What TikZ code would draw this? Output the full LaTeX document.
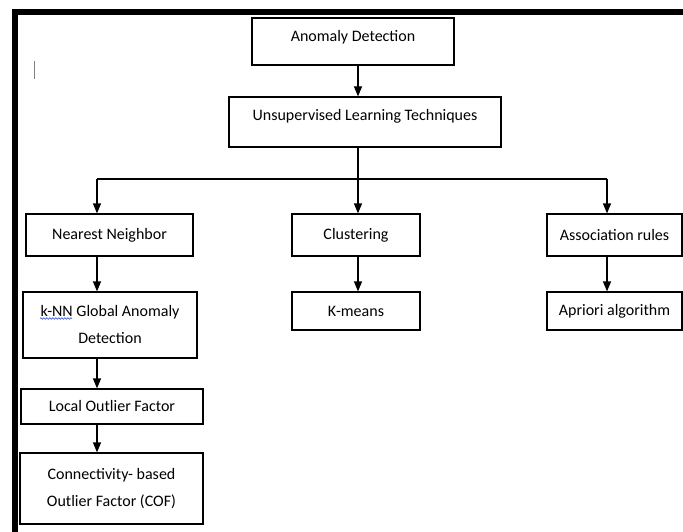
\documentclass[tikz,border=0pt]{standalone}
\usepackage{fontspec}
\setmainfont{Carlito}
\usetikzlibrary{arrows.meta,decorations.pathmorphing}
\definecolor{wavyblue}{RGB}{70,100,220}
\begin{document}
\begin{tikzpicture}[x=1pt,y=-1pt,
  box/.style={draw=black, line width=1.2pt, inner sep=0pt, font=\fontsize{16}{27}\selectfont},
  conn/.style={line width=1.2pt, -{Triangle[length=10pt,width=8pt]}},
  plain/.style={line width=1.2pt}]
\useasboundingbox (0,0) rectangle (683,532);
% page border and cursor
\fill (12,9) rectangle (683,15);
\fill (12,9) rectangle (18,532);
\draw[gray, line width=1.5pt] (34.5,61) -- (34.5,79);
% boxes
\node[box, minimum width=202pt, minimum height=47pt, text height=11pt, text depth=11pt] (ad) at (353,41.5) {Anomaly Detection};
\node[box, minimum width=272pt, minimum height=50pt, text height=10pt, text depth=13pt] (ul) at (365,122) {Unsupervised Learning Techniques};
\node[box, minimum width=167pt, minimum height=42pt] (nn) at (109.5,235) {Nearest Neighbor};
\node[box, minimum width=128pt, minimum height=42pt] (cl) at (356,235) {Clustering};
\node[box, minimum width=135pt, minimum height=42pt] (ar) at (614.5,235) {Association rules};
\node[box, align=center, minimum width=174pt, minimum height=66pt] (knn) at (110,325) {k-NN Global Anomaly\\Detection};
\node[box, minimum width=128pt, minimum height=38pt] (km) at (356,311) {K-means};
\node[box, minimum width=135pt, minimum height=38pt] (ap) at (614.5,311) {Apriori algorithm};
\node[box, minimum width=182pt, minimum height=35pt] (lof) at (112,406.5) {Local Outlier Factor};
\node[box, align=center, minimum width=183pt, minimum height=71pt] (cof) at (111.5,488.5) {Connectivity- based\\Outlier Factor (COF)};
% spell-check underline
\draw[wavyblue, line width=0.7pt, decorate, decoration={snake, amplitude=0.8pt, segment length=3pt}] (40,318.5) -- (72,318.5);
% connectors
\coordinate (hub) at (358,179);
\coordinate (hl) at (97,179);
\coordinate (hr) at (607,179);
\draw[conn] (hub |- ad.south) -- (hub |- ul.north);
\draw[plain] (hub |- ul.south) -- (hub);
\draw[plain] (hl) -- (hr);
\draw[conn] (hl) -- (hl |- nn.north);
\draw[conn] (hub) -- (hub |- cl.north);
\draw[conn] (hr) -- (hr |- ar.north);
\draw[conn] (hl |- nn.south) -- (hl |- knn.north);
\draw[conn] (hl |- knn.south) -- (hl |- lof.north);
\draw[conn] (hl |- lof.south) -- (hl |- cof.north);
\draw[conn] (hub |- cl.south) -- (hub |- km.north);
\draw[conn] (hr |- ar.south) -- (hr |- ap.north);
\end{tikzpicture}
\end{document}
